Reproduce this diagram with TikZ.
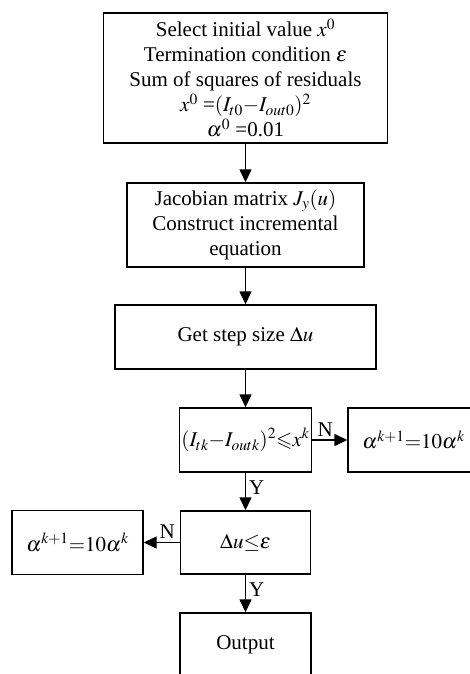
\documentclass[tikz,border=0pt]{standalone}
\usepackage{amssymb}
\usepackage{mathptmx}
\usepackage[no-math]{fontspec}
\setmainfont{Liberation Serif}
\usetikzlibrary{arrows.meta}

\begin{document}
\begin{tikzpicture}[x=1pt,y=-1pt,
  box/.style={draw,line width=1.4pt,align=center,inner sep=2pt,
    font=\fontsize{21}{25}\selectfont},
  arr/.style={line width=1.4pt,-{Triangle[length=13pt,width=12pt]}},
  lbl/.style={font=\fontsize{21}{25}\selectfont,inner sep=3pt}]
  \useasboundingbox (0,0) rectangle (470,674);
  \clip (0,0) rectangle (470,674);
  % main column
  \node[box,minimum width=284pt,minimum height=130pt] (init) at (245.5,78)
    {Select initial value $x^0$\\Termination condition $\varepsilon$\\
     Sum of squares of residuals\\$x^0$ =$(I_{t0}{-}I_{out0})^2$\\$\alpha^0$ =0.01};
  \node[box,minimum width=237pt,minimum height=84pt] (jac) at (245.5,225)
    {Jacobian matrix $J_y(u)$\\Construct incremental\\equation};
  \node[box,minimum width=261pt,minimum height=64pt] (step) at (245.5,337)
    {Get step size $\Delta u$};
  \node[box,minimum width=130pt,minimum height=64pt] (res) at (245.5,440)
    {$(I_{tk}{-}I_{outk})^2{\leqslant}x^k$};
  \node[box,minimum width=130pt,minimum height=63pt] (conv) at (245.5,542.5)
    {$\Delta u{\leq}\varepsilon$};
  \node[box,minimum width=131pt,minimum height=64pt] (out) at (245.5,645)
    {Output};
  % side boxes
  \node[box,minimum width=131pt,minimum height=64pt] (upr) at (413.5,440)
    {$\alpha^{k+1}{=}10\alpha^k$};
  \node[box,minimum width=131pt,minimum height=64pt] (upl) at (77.5,542.5)
    {$\alpha^{k+1}{=}10\alpha^k$};
  % connectors
  \draw[arr] (init) -- (jac);
  \draw[arr] (jac) -- (step);
  \draw[arr] (step) -- (res);
  \draw[arr] (res) -- node[lbl,above,pos=0.37]{N} (upr);
  \draw[arr] (res) -- node[lbl,right,pos=0.4]{Y} (conv);
  \draw[arr] (conv) -- node[lbl,above,pos=0.35]{N} (upl);
  \draw[arr] (conv) -- node[lbl,right,pos=0.4]{Y} (out);
\end{tikzpicture}
\end{document}
